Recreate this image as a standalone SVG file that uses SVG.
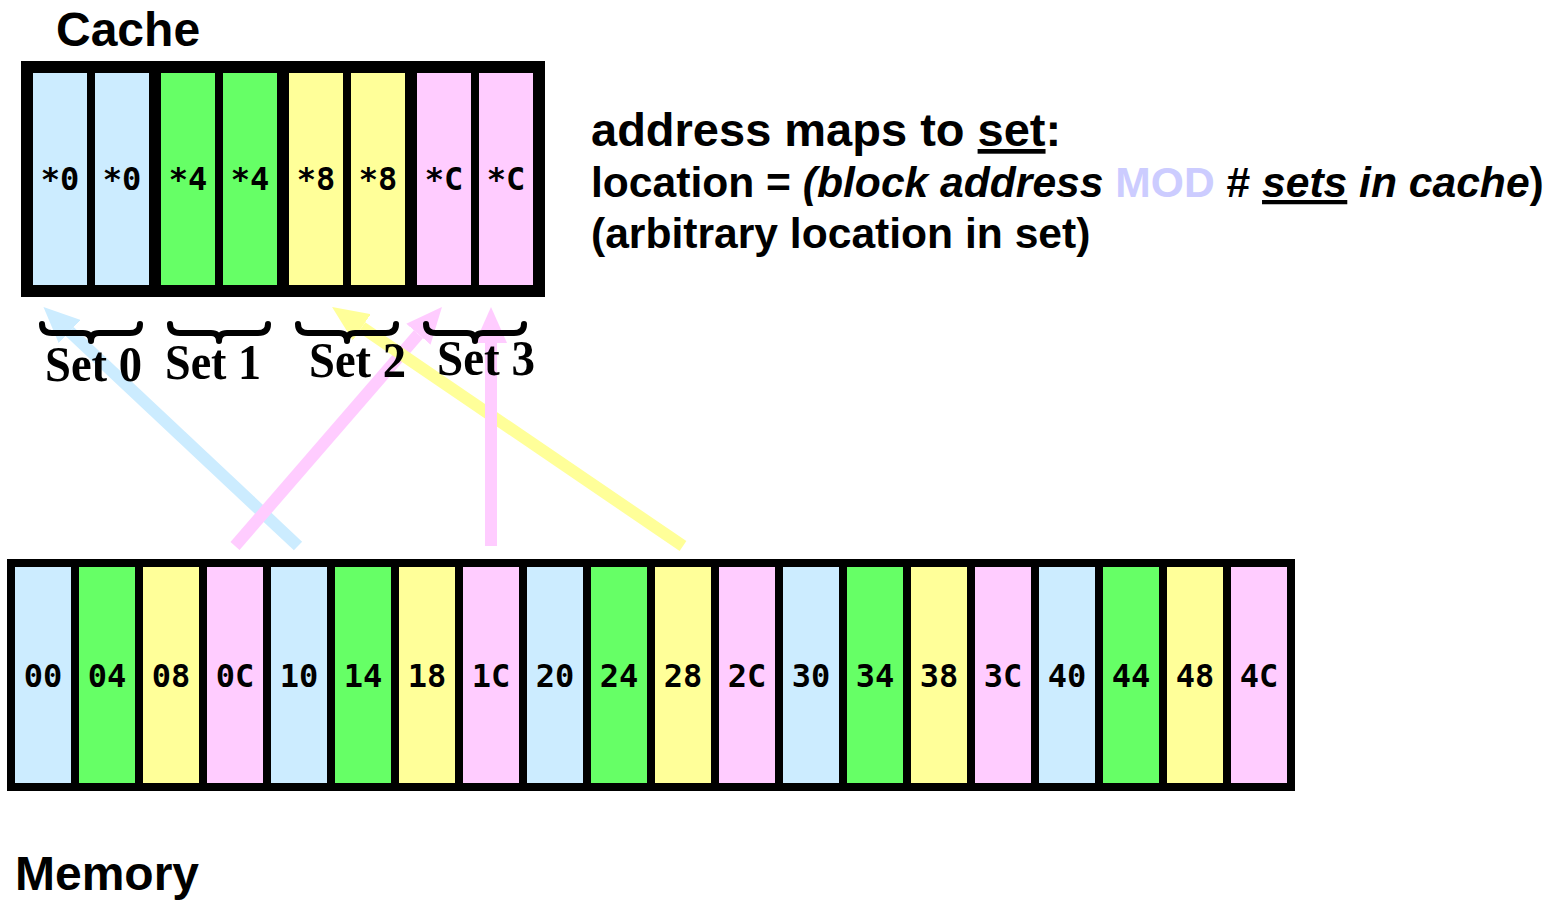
<svg xmlns="http://www.w3.org/2000/svg" width="1562" height="901" viewBox="0 0 1562 901">
<style>
.b{fill:#CCECFF}.g{fill:#66FF66}.y{fill:#FFFF99}.p{fill:#FFCCFF}
.frame{fill:#000}
.mono{font-family:"DejaVu Sans Mono","Liberation Mono",monospace;font-weight:bold;font-size:32px;fill:#000;text-anchor:middle}
.title{font-family:"Liberation Sans",Arial,sans-serif;font-weight:bold;font-size:48px;fill:#000}
.info{font-family:"Liberation Sans",Arial,sans-serif;font-weight:bold;fill:#000}
.set{font-family:"Liberation Serif","Times New Roman",serif;font-weight:bold;font-size:50px;fill:#000}
.brace{fill:none;stroke:#000;stroke-width:6;stroke-linecap:round;stroke-linejoin:round}
.arr{fill:none;stroke-width:12;stroke-linecap:butt}
</style>
<defs>
<marker id="hb" markerUnits="userSpaceOnUse" markerWidth="36" markerHeight="32" viewBox="0 0 36 32" refX="0" refY="16" orient="auto"><path d="M0,0 L36,16 L0,32 z" fill="#CCECFF"/></marker>
<marker id="hp" markerUnits="userSpaceOnUse" markerWidth="36" markerHeight="32" viewBox="0 0 36 32" refX="0" refY="16" orient="auto"><path d="M0,0 L36,16 L0,32 z" fill="#FFCCFF"/></marker>
<marker id="hy" markerUnits="userSpaceOnUse" markerWidth="36" markerHeight="32" viewBox="0 0 36 32" refX="0" refY="16" orient="auto"><path d="M0,0 L36,16 L0,32 z" fill="#FFFF99"/></marker>
</defs>
<rect width="1562" height="901" fill="#fff"/>

<text class="title" x="56" y="46">Cache</text>

<g id="cache">
<rect class="frame" x="21" y="61" width="524" height="236"/>
<rect class="b" x="33" y="73" width="54" height="212"/>
<rect class="b" x="95" y="73" width="54" height="212"/>
<rect class="g" x="161" y="73" width="54" height="212"/>
<rect class="g" x="223" y="73" width="54" height="212"/>
<rect class="y" x="289" y="73" width="54" height="212"/>
<rect class="y" x="351" y="73" width="54" height="212"/>
<rect class="p" x="417" y="73" width="54" height="212"/>
<rect class="p" x="479" y="73" width="54" height="212"/>
<text class="mono" x="60" y="190">*0</text>
<text class="mono" x="122" y="190">*0</text>
<text class="mono" x="188" y="190">*4</text>
<text class="mono" x="250" y="190">*4</text>
<text class="mono" x="316" y="190">*8</text>
<text class="mono" x="378" y="190">*8</text>
<text class="mono" x="444" y="190">*C</text>
<text class="mono" x="506" y="190">*C</text>
</g>

<g id="connectors">
<path class="arr" stroke="#CCECFF" d="M298,546 L69.7,331.6" marker-end="url(#hb)"/>
<path class="arr" stroke="#FFCCFF" d="M235,546 L418.4,334.2" marker-end="url(#hp)"/>
<path class="arr" stroke="#FFFF99" d="M683,546 L361.8,327.3" marker-end="url(#hy)"/>
<path class="arr" stroke="#FFCCFF" d="M491,546 L491,343" marker-end="url(#hp)"/>
</g>

<g id="sets">
<path class="brace" d="M42,324 Q42,333 52,333 L83,333 Q91,333 91,341 Q91,333 99,333 L130,333 Q140,333 140,324"/>
<path class="brace" d="M170,324 Q170,333 180,333 L211,333 Q219,333 219,341 Q219,333 227,333 L258,333 Q268,333 268,324"/>
<path class="brace" d="M298,324 Q298,333 308,333 L339,333 Q347,333 347,341 Q347,333 355,333 L386,333 Q396,333 396,324"/>
<path class="brace" d="M426,324 Q426,333 436,333 L467,333 Q475,333 475,341 Q475,333 483,333 L514,333 Q524,333 524,324"/>
<text class="set" x="45" y="381" textLength="97" lengthAdjust="spacingAndGlyphs">Set 0</text>
<text class="set" x="165" y="379" textLength="96" lengthAdjust="spacingAndGlyphs">Set 1</text>
<text class="set" x="309" y="377" textLength="97" lengthAdjust="spacingAndGlyphs">Set 2</text>
<text class="set" x="437" y="375" textLength="98" lengthAdjust="spacingAndGlyphs">Set 3</text>
</g>

<g id="info">
<text class="info" x="591" y="146" font-size="47">address maps to <tspan text-decoration="underline">set</tspan>:</text>
<text class="info" x="591" y="197" font-size="42.6">location = <tspan font-style="italic">(block address </tspan><tspan fill="#CCCCFF">MOD</tspan> # <tspan font-style="italic" text-decoration="underline">sets</tspan><tspan font-style="italic"> in cache</tspan>)</text>
<text class="info" x="591" y="248" font-size="42.6">(arbitrary location in set)</text>
</g>

<g id="memory">
<rect class="frame" x="7" y="559" width="1288" height="232"/>
<rect class="b" x="15" y="567" width="56" height="216"/>
<rect class="g" x="79" y="567" width="56" height="216"/>
<rect class="y" x="143" y="567" width="56" height="216"/>
<rect class="p" x="207" y="567" width="56" height="216"/>
<rect class="b" x="271" y="567" width="56" height="216"/>
<rect class="g" x="335" y="567" width="56" height="216"/>
<rect class="y" x="399" y="567" width="56" height="216"/>
<rect class="p" x="463" y="567" width="56" height="216"/>
<rect class="b" x="527" y="567" width="56" height="216"/>
<rect class="g" x="591" y="567" width="56" height="216"/>
<rect class="y" x="655" y="567" width="56" height="216"/>
<rect class="p" x="719" y="567" width="56" height="216"/>
<rect class="b" x="783" y="567" width="56" height="216"/>
<rect class="g" x="847" y="567" width="56" height="216"/>
<rect class="y" x="911" y="567" width="56" height="216"/>
<rect class="p" x="975" y="567" width="56" height="216"/>
<rect class="b" x="1039" y="567" width="56" height="216"/>
<rect class="g" x="1103" y="567" width="56" height="216"/>
<rect class="y" x="1167" y="567" width="56" height="216"/>
<rect class="p" x="1231" y="567" width="56" height="216"/>
<text class="mono" x="43" y="687">00</text>
<text class="mono" x="107" y="687">04</text>
<text class="mono" x="171" y="687">08</text>
<text class="mono" x="235" y="687">0C</text>
<text class="mono" x="299" y="687">10</text>
<text class="mono" x="363" y="687">14</text>
<text class="mono" x="427" y="687">18</text>
<text class="mono" x="491" y="687">1C</text>
<text class="mono" x="555" y="687">20</text>
<text class="mono" x="619" y="687">24</text>
<text class="mono" x="683" y="687">28</text>
<text class="mono" x="747" y="687">2C</text>
<text class="mono" x="811" y="687">30</text>
<text class="mono" x="875" y="687">34</text>
<text class="mono" x="939" y="687">38</text>
<text class="mono" x="1003" y="687">3C</text>
<text class="mono" x="1067" y="687">40</text>
<text class="mono" x="1131" y="687">44</text>
<text class="mono" x="1195" y="687">48</text>
<text class="mono" x="1259" y="687">4C</text>
</g>

<text class="title" x="15" y="890">Memory</text>
</svg>
